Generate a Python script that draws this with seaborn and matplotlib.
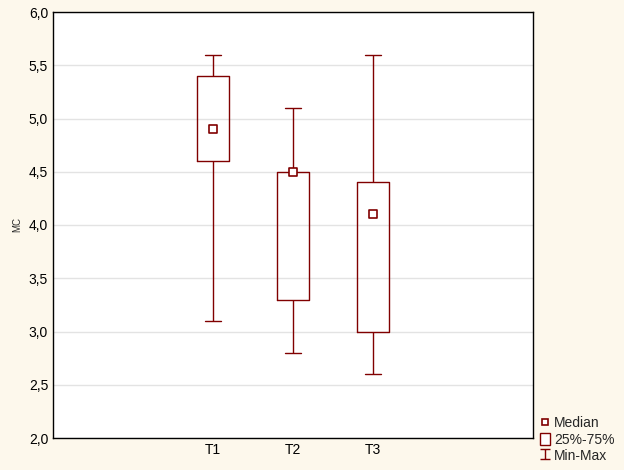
import numpy as np
import pandas as pd
import matplotlib
matplotlib.use("Agg")
import matplotlib.pyplot as plt
from matplotlib.lines import Line2D
from matplotlib.patches import Patch
from matplotlib.path import Path
from matplotlib.ticker import FuncFormatter
import seaborn as sns

# Five-number summaries
groups = ["T1", "T2", "T3"]
positions = [2, 3, 4]
mins = [3.1, 2.8, 2.6]
q1s = [4.6, 3.3, 3.0]
medians = [4.9, 4.5, 4.1]
q3s = [5.4, 4.5, 4.4]
maxs = [5.6, 5.1, 5.6]

# five points per group -> quartiles fall exactly on q1/q3
rows = []
for g, p, a, b, c, d, e in zip(groups, positions, mins, q1s, medians, q3s, maxs):
    for v in (a, b, c, d, e):
        rows.append({"group": g, "pos": p, "MC": v})
data = pd.DataFrame(rows)
med_df = pd.DataFrame({"pos": positions, "MC": medians})

red = "#800000"
bg = "#FDF8EC"

sns.set_style("white")
plt.rcParams["font.family"] = ["Liberation Sans", "DejaVu Sans"]

fig = plt.figure(figsize=(6.24, 4.70), dpi=100, facecolor=bg)
ax = fig.add_axes([53 / 624, 32 / 470, 480 / 624, 426 / 470])
ax.set_facecolor("white")

sns.boxplot(data=data, x="pos", y="MC", native_scale=True, width=0.41,
            whis=(0, 100), fill=False, color=red, linewidth=1,
            medianprops={"visible": False}, showfliers=False, ax=ax)
sns.scatterplot(data=med_df, x="pos", y="MC", marker="s", s=28,
                facecolor="white", edgecolor=red, linewidth=1.2, zorder=5, ax=ax)

ax.set_xlim(0, 6)
ax.set_ylim(2.0, 6.0)
ax.set_xticks([1, 2, 3, 4, 5])
ax.set_xticklabels(["", "T1", "T2", "T3", ""])
ax.set_yticks(np.arange(2.0, 6.01, 0.5))
ax.yaxis.set_major_formatter(FuncFormatter(lambda v, _: f"{v:.1f}".replace(".", ",")))
ax.yaxis.grid(True, color="#E3E3E3", linewidth=1)
ax.set_axisbelow(True)
ax.tick_params(direction="in", length=3, labelsize=10, colors="black")
ax.set_xlabel("")
ax.set_ylabel("MC", fontsize=7, labelpad=5)
for s in ax.spines.values():
    s.set_color("black")
    s.set_linewidth(1)

ibeam = Path([(-1, 1), (1, 1), (0, 1), (0, -1), (-1, -1), (1, -1)],
             [Path.MOVETO, Path.LINETO, Path.MOVETO, Path.LINETO, Path.MOVETO, Path.LINETO])
handles = [
    Line2D([], [], linestyle="none", marker="s", markersize=5,
           markerfacecolor="white", markeredgecolor=red, markeredgewidth=1.2),
    Patch(facecolor="white", edgecolor=red, linewidth=1),
    Line2D([], [], linestyle="none", marker=ibeam, markersize=7,
           markeredgecolor=red, markeredgewidth=1),
]
fig.legend(handles, ["Median", "25%-75%", "Min-Max"], loc="lower left",
           bbox_to_anchor=(0.85, -0.005), frameon=False, fontsize=10,
           handlelength=0.7, handleheight=0.9, handletextpad=0.3,
           labelspacing=0.15, borderpad=0.2)

fig.savefig("out.png", dpi=100, facecolor=bg)
